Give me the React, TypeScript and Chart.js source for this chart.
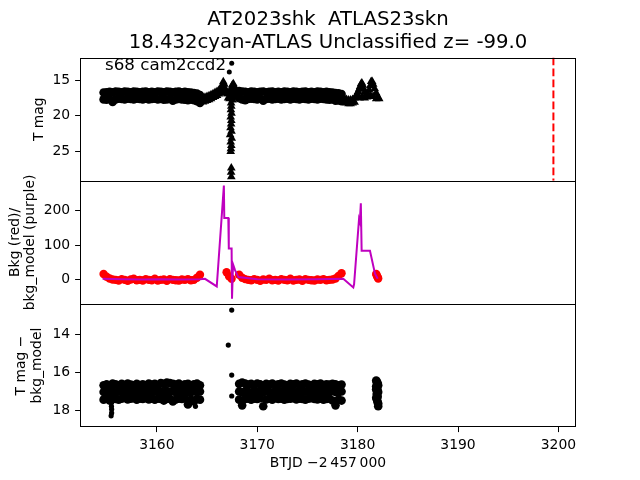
import React, { useEffect, useRef } from "react";
import { Chart, registerables } from "chart.js";

Chart.register(...registerables);

const FONT = '"DejaVu Sans", sans-serif';

// ---- text ----
const titleLines = ["AT2023shk  ATLAS23skn", "18.432cyan-ATLAS Unclassified z= -99.0"];
const panelNote = "s68 cam2ccd2";
const xLabel = "BTJD \u22122\u2009457\u2009000";
const y1Label = "T mag";
const y2Label = ["Bkg (red)/", "bkg_model (purple)"];
const y3Label = ["T mag \u2212", "bkg_model"];

// ---- axes ----
const xTicks = [3160, 3170, 3180, 3190, 3200];
const y1Ticks = [15, 20, 25];
const y2Ticks = [0, 100, 200];
const y3Ticks = [14, 16, 18];
const xRange = [3152.35, 3201.75];
const y1Range = [11.86, 29.08];
const y2Range = [-70, 287];
const y3Range = [12.42, 18.9];
const peakTime = [3199.5];

// ---- cadence times ----
const seg1T = [3154.7, 3155.0, 3155.3, 3155.6, 3155.9, 3156.2, 3156.5, 3156.8, 3157.1, 3157.4, 3157.7, 3158.0, 3158.3, 3158.6, 3158.9, 3159.2, 3159.5, 3159.8, 3160.1, 3160.4, 3160.7, 3161.0, 3161.3, 3161.6, 3161.9, 3162.2, 3162.5, 3162.8, 3163.1, 3163.4, 3163.7, 3164.0, 3164.3];
const seg2T = [3168.2, 3168.5, 3168.8, 3169.1, 3169.4, 3169.7, 3170.0, 3170.3, 3170.6, 3170.9, 3171.2, 3171.5, 3171.8, 3172.1, 3172.4, 3172.7, 3173.0, 3173.3, 3173.6, 3173.9, 3174.2, 3174.5, 3174.8, 3175.1, 3175.4, 3175.7, 3176.0, 3176.3, 3176.6, 3176.9, 3177.2, 3177.5, 3177.8, 3178.1, 3178.4];
const seg3T = [3181.85, 3181.9, 3181.95, 3182.0, 3182.05];

// ---- panel 1: T mag (detections, upper edge / lower edge of scatter) ----
const p1TopSeg1 = [16.75, 16.7, 16.65, 16.7, 16.6, 16.65, 16.7, 16.6, 16.65, 16.7, 16.6, 16.65, 16.7, 16.65, 16.6, 16.7, 16.65, 16.7, 16.6, 16.65, 16.7, 16.6, 16.65, 16.7, 16.65, 16.6, 16.7, 16.65, 16.7, 16.75, 16.8, 16.9, 17.1];
const p1BotSeg1 = [17.7, 17.75, 17.65, 18.05, 17.7, 17.6, 17.65, 17.7, 17.6, 17.65, 17.7, 17.6, 17.65, 17.7, 17.6, 17.7, 17.65, 17.6, 17.7, 17.65, 17.75, 17.7, 17.65, 17.9, 17.7, 17.65, 17.7, 17.75, 17.8, 17.7, 17.8, 17.95, 18.2];
const p1TopSeg2 = [16.55, 16.6, 16.65, 16.7, 16.6, 16.65, 16.7, 16.65, 16.6, 16.7, 16.65, 16.6, 16.7, 16.65, 16.7, 16.6, 16.65, 16.7, 16.6, 16.65, 16.7, 16.65, 16.6, 16.7, 16.65, 16.7, 16.6, 16.65, 16.7, 16.65, 16.7, 16.75, 16.8, 16.85, 16.95];
const p1BotSeg2 = [17.55, 17.7, 17.8, 17.65, 17.6, 17.65, 17.7, 17.6, 17.9, 17.65, 17.6, 17.7, 17.65, 17.6, 17.7, 17.65, 17.6, 17.7, 17.6, 17.65, 17.7, 17.6, 17.65, 17.7, 17.6, 17.65, 17.7, 17.6, 17.65, 17.7, 17.75, 17.7, 17.9, 17.85, 17.95];
const p1DotT = [3167.46, 3167.22];
const p1DotM = [12.64, 13.89];
// upper limits (triangles)
const p1LimT = [
  3164.6, 3164.8, 3165.0, 3165.2, 3165.4, 3165.6, 3165.8, 3166.0, 3166.2, 3166.4,
  3164.6, 3164.8, 3165.0, 3165.2, 3165.4, 3165.6, 3165.8, 3166.0, 3166.2, 3166.4,
  3166.52, 3166.62, 3166.72, 3166.82, 3166.92, 3167.02, 3167.12, 3167.22, 3167.32, 3167.42, 3167.52, 3167.62, 3167.72, 3167.82, 3167.92, 3168.02,
  3166.62, 3166.72, 3167.62, 3167.72, 3167.85, 3167.1, 3167.25, 3167.4, 3167.5, 3167.55,
  3167.4, 3167.42, 3167.38, 3167.44, 3167.36, 3167.42, 3167.4, 3167.34, 3167.44, 3167.3, 3167.46, 3167.36, 3167.42, 3167.38, 3167.36,
  3167.42, 3167.4, 3167.42,
  3178.7, 3178.7, 3178.9, 3178.9, 3179.1, 3179.1, 3179.3, 3179.3, 3179.5, 3179.5, 3179.7, 3179.7,
  3179.85, 3179.95, 3180.05, 3180.15, 3180.25, 3180.35, 3180.42, 3180.5, 3180.6, 3180.7, 3180.82, 3180.95,
  3181.05, 3181.15, 3181.25, 3181.35, 3181.45, 3181.55, 3181.7, 3181.85, 3182.0, 3182.15,
  3180.2, 3180.45, 3180.7, 3181.3, 3181.55, 3181.85,
];
const p1LimM = [
  17.5, 17.4, 17.3, 17.2, 17.05, 16.9, 16.75, 16.6, 16.4, 16.1,
  18.05, 17.95, 17.85, 17.75, 17.6, 17.45, 17.3, 17.15, 16.95, 16.7,
  15.7, 15.25, 15.6, 16.2, 16.7, 16.9, 16.9, 16.8, 16.5, 16.1, 15.7, 15.5, 15.9, 16.4, 16.8, 17.1,
  16.2, 16.8, 16.5, 17.1, 17.4, 17.5, 17.6, 17.3, 17.0, 17.8,
  18.2, 18.65, 19.15, 19.65, 20.15, 20.65, 21.15, 21.65, 22.15, 22.65, 23.15, 23.65, 24.15, 24.6, 25.0,
  27.3, 27.9, 28.5,
  17.6, 18.1, 17.7, 18.2, 17.8, 18.3, 17.8, 18.3, 17.7, 18.2, 17.5, 18.1,
  17.3, 17.0, 16.6, 16.3, 15.9, 15.5, 15.4, 15.7, 16.2, 16.7, 17.2, 17.35,
  17.0, 16.4, 15.8, 15.2, 15.2, 15.6, 16.2, 16.8, 17.3, 17.6,
  17.5, 17.3, 17.5, 17.2, 17.3, 17.6,
];

// ---- panel 2: background (red) and background model (purple) ----
const bkgSeg1 = [17, 9, 4, 1, 0, -2, 2, 0, -3, 1, 3, -1, 0, -2, 2, 0, -1, 3, -2, 0, 1, -3, 2, 0, -1, -2, 1, 0, 2, -1, 0, 6, 15];
const bkgSeg2 = [15, 6, 2, 0, -1, 2, 0, -3, 1, 0, 3, -1, 0, -2, 2, 0, -1, 3, -2, 0, 1, -3, 2, 0, -1, -2, 1, 0, 2, -1, 0, 1, 4, 11, 19];
const bkgSeg3 = [17, 13, 10, 7, 4];
const bkgGapT = [3166.95, 3167.2, 3167.45];
const bkgGapV = [22, 10, 3];
const modelT = [3154.6, 3156.5, 3158.5, 3160.5, 3162.5, 3164.3, 3164.8, 3165.97, 3166.68, 3166.72, 3167.12, 3167.17, 3167.45, 3167.49, 3167.59, 3167.79, 3168.12, 3170.0, 3173.0, 3176.0, 3178.57, 3179.57, 3179.65, 3180.14, 3180.22, 3180.32, 3180.4, 3181.23, 3181.73, 3182.0];
const modelV = [3, 2, 1, 2, 1, 2, 3, -19, 273, 179, 179, 91, 91, -55, 45, 28, 8, 2, 1, 2, 3, -22, -12, 176, 168, 222, 84, 84, 18, 3];

// ---- panel 3: T mag - bkg_model ----
const p3ASeg1 = [16.7, 16.65, 16.7, 16.6, 16.65, 16.7, 16.62, 16.68, 16.6, 16.66, 16.7, 16.62, 16.68, 16.64, 16.7, 16.6, 16.66, 16.62, 16.7, 16.58, 16.62, 16.55, 16.58, 16.62, 16.66, 16.6, 16.7, 16.64, 16.62, 16.68, 16.65, 16.6, 16.7];
const p3BSeg1 = [17.05, 17.0, 17.05, 17.0, 17.1, 17.0, 17.05, 17.0, 17.03, 17.08, 17.0, 17.05, 17.02, 17.06, 17.0, 17.04, 17.08, 17.0, 17.05, 17.02, 17.06, 17.0, 17.04, 17.0, 17.06, 17.02, 17.05, 17.0, 17.04, 17.06, 17.0, 17.05, 17.02];
const p3CSeg1 = [17.45, 17.4, 17.5, 17.38, 17.42, 17.45, 17.4, 17.36, 17.44, 17.4, 17.38, 17.45, 17.4, 17.42, 17.38, 17.44, 17.4, 17.45, 17.4, 17.42, 17.5, 17.42, 17.4, 17.55, 17.44, 17.4, 17.42, 17.38, 17.7, 17.45, 17.55, 17.4, 17.45];
const p3ASeg2 = [16.62, 16.55, 16.6, 16.66, 16.62, 16.68, 16.6, 16.65, 16.7, 16.62, 16.66, 16.6, 16.68, 16.64, 16.6, 16.66, 16.7, 16.62, 16.65, 16.6, 16.68, 16.64, 16.6, 16.66, 16.7, 16.62, 16.65, 16.6, 16.68, 16.64, 16.66, 16.62, 16.65, 16.7, 16.66];
const p3BSeg2 = [17.02, 17.06, 17.0, 17.04, 17.08, 17.0, 17.05, 17.02, 17.06, 17.0, 17.04, 17.08, 17.0, 17.05, 17.02, 17.06, 17.0, 17.04, 17.02, 17.06, 17.0, 17.05, 17.03, 17.0, 17.06, 17.02, 17.04, 17.0, 17.06, 17.02, 17.05, 17.0, 17.04, 17.06, 17.02];
const p3CSeg2 = [17.45, 17.75, 17.42, 17.4, 17.45, 17.4, 17.42, 17.38, 17.8, 17.44, 17.4, 17.45, 17.38, 17.42, 17.4, 17.45, 17.42, 17.4, 17.38, 17.44, 17.4, 17.42, 17.45, 17.4, 17.38, 17.42, 17.44, 17.4, 17.45, 17.42, 17.4, 17.5, 17.75, 17.45, 17.5];
const p3ASeg3 = [16.45, 16.5, 16.55, 16.6, 16.7];
const p3BSeg3 = [16.9, 16.95, 16.85, 17.0, 17.05];
const p3CSeg3 = [17.35, 17.4, 17.5, 17.6, 17.8];
const p3DSeg3 = [16.75, 17.15, 17.2, 17.3, 17.65];
const p3DotT = [3167.46, 3167.12, 3167.46, 3167.46, 3155.45, 3155.5, 3155.5, 3155.48, 3155.5, 3163.85];
const p3DotM = [12.74, 14.58, 16.16, 17.26, 18.3, 18.15, 17.95, 17.8, 17.6, 17.8];

const xy = (ts: number[], vs: number[]) => ts.map((t, i) => ({ x: t, y: vs[i] }));

const tickFont = { family: FONT, size: 13.9 };

function yScale(ticks: number[], range: number[], reverse: boolean, title: any, pad: number, lh: number) {
  return {
    type: "linear",
    position: "left",
    stack: "panels",
    stackWeight: 1,
    min: range[0],
    max: range[1],
    reverse,
    afterBuildTicks: (s: any) => {
      s.ticks = ticks.map((v) => ({ value: v }));
    },
    afterFit: (s: any) => {
      s.width = 80;
    },
    ticks: { font: tickFont, color: "#000", padding: 4.9, callback: (v: any) => String(v) },
    grid: { drawOnChartArea: false, drawTicks: true, tickLength: 4.9, color: "#000", tickWidth: 1 },
    border: { display: false },
    title: {
      display: true,
      text: title,
      color: "#000",
      font: { family: FONT, size: 13.9, lineHeight: lh },
      padding: { top: pad, bottom: 0 },
    },
  };
}

const framePlugin = {
  id: "frames",
  afterDatasetsDraw(chart: any) {
    const { ctx, chartArea } = chart;
    ctx.save();
    ctx.strokeStyle = "#000";
    ctx.lineWidth = 1;
    const l = Math.round(chartArea.left) + 0.5;
    const r = Math.round(chartArea.right) - 0.5;
    const t = Math.round(chartArea.top) + 0.5;
    const b = Math.round(chartArea.bottom) - 0.5;
    ctx.strokeRect(l, t, r - l, b - t);
    ctx.beginPath();
    for (const id of ["y1", "y2"]) {
      const y = Math.round(chart.scales[id].bottom) + 0.5;
      ctx.moveTo(l, y);
      ctx.lineTo(r, y);
    }
    ctx.stroke();
    ctx.fillStyle = "#000";
    ctx.font = `16.7px ${FONT}`;
    ctx.textBaseline = "alphabetic";
    ctx.textAlign = "left";
    ctx.fillText(panelNote, chartArea.left + 25, chartArea.top + 12.5);
    ctx.restore();
  },
};

export default function App() {
  const ref = useRef<HTMLCanvasElement>(null);
  useEffect(() => {
    const black = "#000000";
    const chart = new Chart(ref.current as HTMLCanvasElement, {
      type: "scatter",
      data: {
        datasets: [
          {
            label: "peak",
            data: [
              { x: peakTime[0], y: y1Range[0] },
              { x: peakTime[0], y: y1Range[1] },
            ],
            yAxisID: "y1",
            showLine: true,
            borderColor: "#ff0000",
            borderWidth: 2,
            borderDash: [7.7, 3.3],
            pointRadius: 0,
            clip: 0,
          },
          {
            label: "T mag dots",
            data: xy(p1DotT, p1DotM),
            yAxisID: "y1",
            pointRadius: 2.5,
            backgroundColor: black,
            borderWidth: 0,
            clip: 0,
          },
          {
            label: "T mag limits",
            data: xy(p1LimT, p1LimM),
            yAxisID: "y1",
            pointStyle: "triangle",
            pointRadius: 5,
            backgroundColor: black,
            borderColor: black,
            borderWidth: 0,
            clip: 0,
          },
          {
            label: "T mag",
            data: [
              ...xy(seg1T, p1TopSeg1),
              ...xy(seg1T, p1BotSeg1),
              ...xy(seg2T, p1TopSeg2),
              ...xy(seg2T, p1BotSeg2),
            ],
            yAxisID: "y1",
            pointRadius: 4.3,
            backgroundColor: black,
            borderWidth: 0,
            clip: 0,
          },
          {
            label: "bkg_model",
            data: xy(modelT, modelV),
            yAxisID: "y2",
            showLine: true,
            borderColor: "#bf00bf",
            borderWidth: 2,
            pointRadius: 0,
            clip: 0,
          },
          {
            label: "Bkg",
            data: [...xy(seg1T, bkgSeg1), ...xy(bkgGapT, bkgGapV), ...xy(seg2T, bkgSeg2), ...xy(seg3T, bkgSeg3)],
            yAxisID: "y2",
            pointRadius: 4.2,
            backgroundColor: "#ff0000",
            borderWidth: 0,
            clip: 0,
          },
          {
            label: "diff dots",
            data: xy(p3DotT, p3DotM),
            yAxisID: "y3",
            pointRadius: 2.6,
            backgroundColor: black,
            borderWidth: 0,
            clip: 0,
          },
          {
            label: "T mag - bkg_model",
            data: [
              ...xy(seg1T, p3ASeg1),
              ...xy(seg1T, p3BSeg1),
              ...xy(seg1T, p3CSeg1),
              ...xy(seg2T, p3ASeg2),
              ...xy(seg2T, p3BSeg2),
              ...xy(seg2T, p3CSeg2),
              ...xy(seg3T, p3ASeg3),
              ...xy(seg3T, p3BSeg3),
              ...xy(seg3T, p3CSeg3),
              ...xy(seg3T, p3DSeg3),
            ],
            yAxisID: "y3",
            pointRadius: 4.3,
            backgroundColor: black,
            borderWidth: 0,
            clip: 0,
          },
        ],
      },
      options: {
        animation: false,
        responsive: false,
        events: [],
        layout: { padding: { left: 0, right: 64, top: 0, bottom: 0 } },
        plugins: {
          legend: { display: false },
          tooltip: { enabled: false },
          title: {
            display: true,
            text: titleLines,
            fullSize: false,
            color: "#000",
            font: { family: FONT, size: 19.7, lineHeight: 1.17, weight: "normal" },
            padding: { top: 8.2, bottom: 3.3 },
          },
        },
        scales: {
          x: {
            type: "linear",
            position: "bottom",
            min: xRange[0],
            max: xRange[1],
            afterBuildTicks: (s: any) => {
              s.ticks = xTicks.map((v) => ({ value: v }));
            },
            afterFit: (s: any) => {
              s.height = 52.8;
            },
            ticks: { font: tickFont, color: "#000", padding: 4.9, maxRotation: 0, callback: (v: any) => String(v) },
            grid: { drawOnChartArea: false, drawTicks: true, tickLength: 4.9, color: "#000", tickWidth: 1 },
            border: { display: false },
            title: {
              display: true,
              text: xLabel,
              color: "#000",
              font: { family: FONT, size: 13.9, lineHeight: 1.2 },
              padding: { top: 0, bottom: 8.4 },
            },
          },
          y3: yScale(y3Ticks, y3Range, true, y3Label, 13, 1.15),
          y2: yScale(y2Ticks, y2Range, false, y2Label, 7.35, 1.1),
          y1: yScale(y1Ticks, y1Range, true, y1Label, 30.7, 1.2),
        } as any,
      },
      plugins: [framePlugin],
    } as any);
    return () => chart.destroy();
  }, []);
  return (
    <div style={{ position: "fixed", left: 0, top: 0, width: 640, height: 480, background: "#fff" }}>
      <canvas ref={ref} width={640} height={480} style={{ width: 640, height: 480, display: "block" }} />
    </div>
  );
}
